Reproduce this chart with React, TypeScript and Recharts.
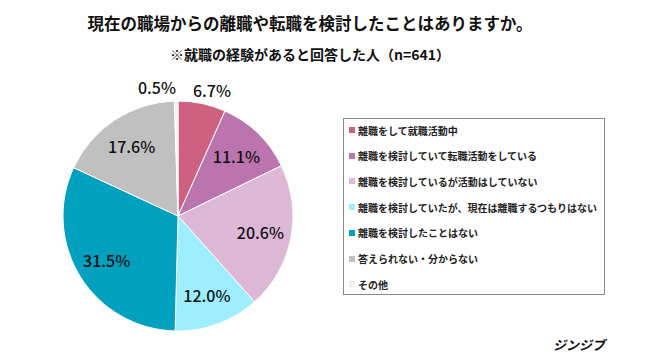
import React from 'react';
import { PieChart, Pie, Cell } from 'recharts';

const categories = [
  '離職をして就職活動中',
  '離職を検討していて転職活動をしている',
  '離職を検討しているが活動はしていない',
  '離職を検討していたが、現在は離職するつもりはない',
  '離職を検討したことはない',
  '答えられない・分からない',
  'その他',
];
const values = [6.7, 11.1, 20.6, 12.0, 31.5, 17.6, 0.5];
const colors = ['#CE6080', '#BC74AE', '#DDB8D6', '#9DEEFE', '#00A0BF', '#C0C0C0', '#F0F0F0'];
const title = '現在の職場からの離職や転職を検討したことはありますか。';
const subtitle = '※就職の経験があると回答した人（n=641）';
const brand = 'ジンジブ';

const data = categories.map((name, i) => ({ name, value: values[i] }));
const FONT = '"Noto Sans CJK JP", "Noto Sans", sans-serif';
const RAD = Math.PI / 180;

const renderLabel = (props: any) => {
  const { cx, cy, midAngle, outerRadius, value } = props;
  const small = value < 10;
  const r = small ? outerRadius + 14 : outerRadius * 0.73;
  let x = cx + r * Math.cos(-midAngle * RAD);
  const y = cy + r * Math.sin(-midAngle * RAD);
  let anchor: 'start' | 'middle' | 'end' = 'middle';
  if (small) {
    if (value < 2) {
      anchor = 'end';
      x = cx - 2;
    } else {
      x = x + 7;
    }
  }
  return (
    <text
      x={x}
      y={y}
      textAnchor={anchor}
      dominantBaseline="central"
      fontFamily={FONT}
      fontSize={16}
      fontWeight={500}
      fill="#111"
    >
      {value.toFixed(1)}%
    </text>
  );
};

export default function App() {
  return (
    <div style={{ position: 'absolute', left: 0, top: 0, width: 650, height: 360, background: '#fff', fontFamily: FONT }}>
      <div style={{ position: 'absolute', left: 0, top: 11, width: 620, textAlign: 'center', fontSize: 16.5, fontWeight: 700, color: '#111', lineHeight: '24px' }}>
        {title}
      </div>
      <div style={{ position: 'absolute', left: 0, top: 44, width: 620, textAlign: 'center', fontSize: 14, fontWeight: 700, color: '#111', lineHeight: '20px' }}>
        {subtitle}
      </div>
      <PieChart width={650} height={360} margin={{ top: 0, right: 0, bottom: 0, left: 0 }} style={{ position: 'absolute', left: 0, top: 0 }}>
        <Pie
          data={data}
          dataKey="value"
          nameKey="name"
          cx={178}
          cy={216}
          outerRadius={115}
          startAngle={90}
          endAngle={-270}
          stroke="#fff"
          strokeWidth={1}
          label={renderLabel}
          labelLine={false}
          isAnimationActive={false}
        >
          {data.map((d, i) => (
            <Cell key={d.name} fill={colors[i]} />
          ))}
        </Pie>
      </PieChart>
      <div style={{ position: 'absolute', left: 343, top: 118, width: 260, height: 175, border: '1px solid #8a8a8a', boxSizing: 'content-box' }}>
        {categories.map((c, i) => (
          <div key={c} style={{ position: 'absolute', left: 5, top: 3 + i * 25.7, height: 16, display: 'flex', alignItems: 'center', fontSize: 10, fontWeight: 700, color: '#222', whiteSpace: 'nowrap' }}>
            <span style={{ display: 'inline-block', width: 6, height: 6, background: colors[i], marginRight: 3 }} />
            {c}
          </div>
        ))}
      </div>
      <div style={{ position: 'absolute', left: 553, top: 336, fontSize: 13, fontWeight: 700, fontStyle: 'italic', color: '#111', lineHeight: '18px' }}>
        {brand}
      </div>
    </div>
  );
}
